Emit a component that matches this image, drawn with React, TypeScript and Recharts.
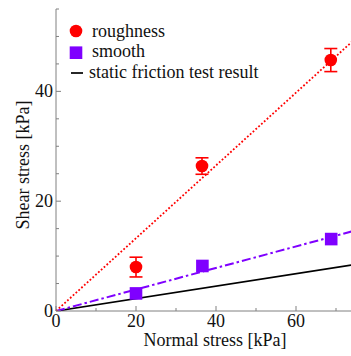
import React from 'react';
import { ScatterChart, Scatter, XAxis, YAxis, ErrorBar, Legend, Label } from 'recharts';

// ---- data ----
const roughX = [20, 36.5, 68.7];
const roughY = [8.0, 26.4, 45.7];
const roughErr = [1.8, 1.5, 2.1];

const smoothX = [20, 36.6, 68.8];
const smoothY = [3.2, 8.2, 13.1];

const fitX = [0, 75];
const roughFitY = [0, 49.7];
const smoothFitY = [0, 14.7];
const staticFitY = [0, 8.5];

const xTicks = [0, 10, 20, 30, 40, 50, 60, 70];
const xLabeled = [0, 20, 40, 60];
const yTicks = [0, 5, 10, 15, 20, 25, 30, 35, 40, 45, 50, 55];
const yLabeled = [0, 20, 40];

const legendNames = ['roughness', 'smooth', 'static friction test result'];
const xTitle = 'Normal stress [kPa]';
const yTitle = 'Shear stress [kPa]';

// ---- built tables ----
const roughData = roughX.map((x, i) => ({ x, y: roughY[i], err: roughErr[i] }));
const smoothData = smoothX.map((x, i) => ({ x, y: smoothY[i] }));
const roughFit = fitX.map((x, i) => ({ x, y: roughFitY[i] }));
const smoothFit = fitX.map((x, i) => ({ x, y: smoothFitY[i] }));
const staticFit = fitX.map((x, i) => ({ x, y: staticFitY[i] }));

const FONT = '"Liberation Serif", "Times New Roman", serif';
const AXIS = '#808080';
const TEXT = '#111';
const RED = '#ff0000';
const PURPLE = '#7f00ff';

const BottomTick = (props: any) => {
  const { x, y, payload } = props;
  const v = payload.value;
  const major = xLabeled.includes(v);
  return (
    <g>
      <line x1={x} x2={x} y1={y} y2={y - (major ? 5 : 3)} stroke={AXIS} strokeWidth={1} />
      {major && (
        <text x={x} y={y + 16} textAnchor="middle" fontSize={18} fontFamily={FONT} fill={TEXT}>
          {v}
        </text>
      )}
    </g>
  );
};

const TopTick = (props: any) => {
  const { x, y, payload } = props;
  const major = xLabeled.includes(payload.value);
  return <line x1={x} x2={x} y1={y} y2={y + (major ? 5 : 3)} stroke={AXIS} strokeWidth={1} />;
};

const LeftTick = (props: any) => {
  const { x, y, payload } = props;
  const v = payload.value;
  const major = yLabeled.includes(v);
  return (
    <g>
      <line x1={x} x2={x + (major ? 5 : 3)} y1={y} y2={y} stroke={AXIS} strokeWidth={1} />
      {major && (
        <text x={x - 3} y={y + 6} textAnchor="end" fontSize={18} fontFamily={FONT} fill={TEXT}>
          {v}
        </text>
      )}
    </g>
  );
};

const CircleShape = (p: any) => <circle cx={p.cx} cy={p.cy} r={6.3} fill={RED} />;
const SquareShape = (p: any) => (
  <rect x={p.cx - 6.3} y={p.cy - 6.3} width={12.6} height={12.6} fill={PURPLE} />
);
const NoShape = () => <g />;

const LegendBox = () => (
  <svg width={300} height={90} style={{ display: 'block' }}>
    <circle cx={76} cy={31} r={6.3} fill={RED} />
    <text x={92} y={36.5} fontSize={18} fontFamily={FONT} fill={TEXT}>{legendNames[0]}</text>
    <rect x={69.7} y={46.4} width={12.6} height={12.6} fill={PURPLE} />
    <text x={92} y={57} fontSize={18} fontFamily={FONT} fill={TEXT}>{legendNames[1]}</text>
    <line x1={71} x2={83} y1={73} y2={73} stroke="#000" strokeWidth={1.7} />
    <text x={89} y={77.5} fontSize={18} fontFamily={FONT} fill={TEXT}>{legendNames[2]}</text>
  </svg>
);

export default function App() {
  return (
    <div
      style={{
        position: 'fixed',
        left: 0,
        top: 0,
        width: 351,
        height: 356,
        overflow: 'hidden',
        background: '#fff',
      }}
    >
      <ScatterChart width={372} height={356} margin={{ top: 9, right: 16, bottom: 0, left: 0 }}>
        <XAxis
          xAxisId="top"
          orientation="top"
          type="number"
          dataKey="x"
          domain={[0, 75]}
          ticks={xTicks}
          interval={0}
          height={0}
          tickSize={0}
          tickMargin={0}
          tickLine={false}
          axisLine={{ stroke: AXIS }}
          tick={<TopTick />}
          allowDataOverflow
        />
        <XAxis
          type="number"
          dataKey="x"
          domain={[0, 75]}
          ticks={xTicks}
          interval={0}
          height={45}
          tickSize={0}
          tickMargin={0}
          tickLine={false}
          axisLine={{ stroke: AXIS }}
          tick={<BottomTick />}
          allowDataOverflow
        >
          <Label
            content={() => (
              <text x={215} y={346} textAnchor="middle" fontSize={18} fontFamily={FONT} fill={TEXT}>
                {xTitle}
              </text>
            )}
          />
        </XAxis>
        <YAxis
          type="number"
          dataKey="y"
          domain={[0, 55]}
          ticks={yTicks}
          interval={0}
          width={56}
          tickSize={0}
          tickMargin={0}
          tickLine={false}
          axisLine={{ stroke: AXIS }}
          tick={<LeftTick />}
          allowDataOverflow
        >
          <Label
            content={() => (
              <text
                x={29}
                y={165}
                transform="rotate(-90, 29, 165)"
                textAnchor="middle"
                fontSize={18}
                fontFamily={FONT}
                fill={TEXT}
              >
                {yTitle}
              </text>
            )}
          />
        </YAxis>
        <Legend
          layout="vertical"
          verticalAlign="middle"
          align="center"
          wrapperStyle={{ left: 0, top: 0, width: 300, height: 90 }}
          content={() => <LegendBox />}
        />
        <Scatter
          name="static"
          data={staticFit}
          fill="#000"
          line={{ stroke: '#000', strokeWidth: 1.7 }}
          shape={<NoShape />}
          legendType="none"
          isAnimationActive={false}
        />
        <Scatter
          name="smooth fit"
          data={smoothFit}
          fill={PURPLE}
          line={{ stroke: PURPLE, strokeWidth: 2, strokeDasharray: '9 3 2.5 3' }}
          shape={<NoShape />}
          legendType="none"
          isAnimationActive={false}
        />
        <Scatter
          name="rough fit"
          data={roughFit}
          fill={RED}
          line={{ stroke: RED, strokeWidth: 1.8, strokeDasharray: '1.8 2' }}
          shape={<NoShape />}
          legendType="none"
          isAnimationActive={false}
        />
        <Scatter
          name="smooth"
          data={smoothData}
          fill={PURPLE}
          shape={<SquareShape />}
          isAnimationActive={false}
        />
        <Scatter name="roughness" data={roughData} fill={RED} shape={<CircleShape />} isAnimationActive={false}>
          <ErrorBar dataKey="err" direction="y" width={6.5} stroke={RED} strokeWidth={1.6} />
        </Scatter>
      </ScatterChart>
    </div>
  );
}
